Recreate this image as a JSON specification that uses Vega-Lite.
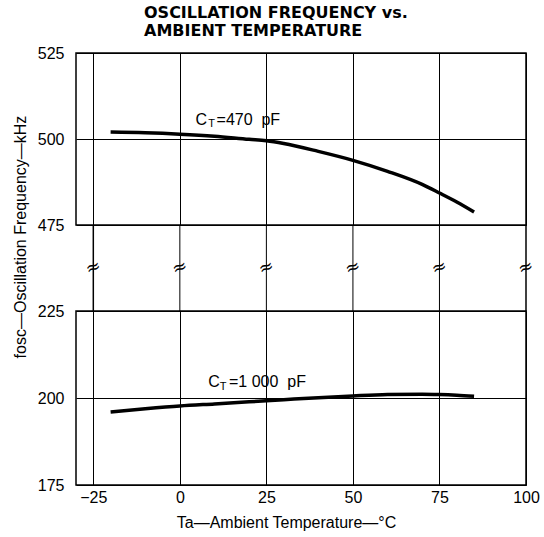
{
  "$schema": "https://vega.github.io/schema/vega-lite/v6.json",
  "padding": {"left": 11, "top": 5, "right": 0, "bottom": 0},
  "autosize": {"type": "pad"},
  "title": {
    "text": ["OSCILLATION FREQUENCY vs.", "AMBIENT TEMPERATURE"],
    "anchor": "start", "frame": "group", "dx": 68,
    "font": "DejaVu Sans", "fontWeight": "bold", "fontSize": 16, "lineHeight": 18,
    "offset": 5, "color": "black"
  },
  "datasets": {
    "c470": [
      {"temp": -20, "freq": 502.0}, {"temp": -10, "freq": 501.8}, {"temp": 0, "freq": 501.4},
      {"temp": 10, "freq": 500.8}, {"temp": 20, "freq": 499.9}, {"temp": 25, "freq": 499.5},
      {"temp": 30, "freq": 498.7}, {"temp": 40, "freq": 496.4}, {"temp": 50, "freq": 493.8},
      {"temp": 60, "freq": 490.6}, {"temp": 70, "freq": 486.8}, {"temp": 75, "freq": 484.3},
      {"temp": 80, "freq": 481.7}, {"temp": 85, "freq": 478.8}
    ],
    "c1000": [
      {"temp": -20, "freq": 196.0}, {"temp": -10, "freq": 196.9}, {"temp": 0, "freq": 197.7},
      {"temp": 10, "freq": 198.3}, {"temp": 20, "freq": 198.9}, {"temp": 30, "freq": 199.5},
      {"temp": 40, "freq": 200.1}, {"temp": 50, "freq": 200.6}, {"temp": 60, "freq": 201.0},
      {"temp": 70, "freq": 201.1}, {"temp": 75, "freq": 201.0}, {"temp": 80, "freq": 200.8},
      {"temp": 85, "freq": 200.5}
    ],
    "xgrid": [{"temp": -25}, {"temp": 0}, {"temp": 25}, {"temp": 50}, {"temp": 75}, {"temp": 100}],
    "labels": [
      {"curve": "470", "part": "main", "temp": 4.5, "freq": 504.1, "txt": "C"},
      {"curve": "470", "part": "sub", "temp": 8.2, "freq": 503.5, "txt": "T"},
      {"curve": "470", "part": "main", "temp": 10.6, "freq": 504.1, "txt": "=470\u00a0\u00a0pF"},
      {"curve": "1000", "part": "main", "temp": 8.2, "freq": 203.25, "txt": "C"},
      {"curve": "1000", "part": "sub", "temp": 11.5, "freq": 202.3, "txt": "T"},
      {"curve": "1000", "part": "main", "temp": 14.2, "freq": 203.25, "txt": "=1\u00a0000\u00a0\u00a0pF"}
    ]
  },
  "spacing": 0,
  "bounds": "flush",
  "vconcat": [
    {
      "width": 450, "height": 172,
      "layer": [
        {
          "data": {"name": "c470"},
          "mark": {"type": "line", "color": "black", "strokeWidth": 3.5, "interpolate": "monotone"},
          "encoding": {
            "x": {"field": "temp", "type": "quantitative", "scale": {"domain": [-25, 100]},
                  "axis": {"values": [-25, 0, 25, 50, 75, 100], "labels": false, "title": null, "grid": true}},
            "y": {"field": "freq", "type": "quantitative", "scale": {"domain": [475, 525]},
                  "axis": {"values": [475, 500, 525], "grid": true,
                           "title": "fosc\u2014Oscillation Frequency\u2014kHz",
                           "titleX": -50.5, "titleY": 183.5, "titleBaseline": "alphabetic"}}
          }
        },
        {
          "data": {"name": "labels"},
          "transform": [{"filter": "datum.curve == '470' && datum.part == 'main'"}],
          "mark": {"type": "text", "align": "left", "baseline": "alphabetic", "fontSize": 16, "color": "black"},
          "encoding": {
            "x": {"field": "temp", "type": "quantitative"},
            "y": {"field": "freq", "type": "quantitative"},
            "text": {"field": "txt"}
          }
        },
        {
          "data": {"name": "labels"},
          "transform": [{"filter": "datum.curve == '470' && datum.part == 'sub'"}],
          "mark": {"type": "text", "align": "left", "baseline": "alphabetic", "fontSize": 11, "color": "black"},
          "encoding": {
            "x": {"field": "temp", "type": "quantitative"},
            "y": {"field": "freq", "type": "quantitative"},
            "text": {"field": "txt"}
          }
        }
      ]
    },
    {
      "width": 450, "height": 86,
      "view": {"stroke": null},
      "layer": [
        {
          "data": {"name": "xgrid"},
          "transform": [{"filter": "datum.temp > -25 && datum.temp < 100"}],
          "mark": {"type": "rule", "color": "black", "strokeWidth": 1},
          "encoding": {
            "x": {"field": "temp", "type": "quantitative", "scale": {"domain": [-25, 100]}, "axis": null}
          }
        },
        {
          "data": {"name": "xgrid"},
          "transform": [{"filter": "datum.temp == -25 || datum.temp == 100"}],
          "mark": {"type": "rule", "color": "black", "strokeWidth": 1.5},
          "encoding": {
            "x": {"field": "temp", "type": "quantitative", "axis": null}
          }
        },
        {
          "data": {"name": "xgrid"},
          "mark": {"type": "text", "text": "\u2248", "fontSize": 18, "font": "DejaVu Sans", "baseline": "middle", "angle": -20, "color": "black"},
          "encoding": {
            "x": {"field": "temp", "type": "quantitative", "axis": null},
            "y": {"datum": 0.5, "type": "quantitative", "scale": {"domain": [0, 1]}, "axis": null}
          }
        }
      ]
    },
    {
      "width": 450, "height": 174,
      "layer": [
        {
          "data": {"name": "c1000"},
          "mark": {"type": "line", "color": "black", "strokeWidth": 3.5, "interpolate": "monotone"},
          "encoding": {
            "x": {"field": "temp", "type": "quantitative", "scale": {"domain": [-25, 100]},
                  "axis": {"values": [-25, 0, 25, 50, 75, 100], "grid": true, "labelFlush": false,
                           "labelPadding": 4,
                           "title": "Ta\u2014Ambient Temperature\u2014\u00b0C",
                           "titleX": 210, "titleY": 37, "titleBaseline": "middle"}},
            "y": {"field": "freq", "type": "quantitative", "scale": {"domain": [175, 225]},
                  "axis": {"values": [175, 200, 225], "grid": true, "title": null}}
          }
        },
        {
          "data": {"name": "labels"},
          "transform": [{"filter": "datum.curve == '1000' && datum.part == 'main'"}],
          "mark": {"type": "text", "align": "left", "baseline": "alphabetic", "fontSize": 16, "color": "black"},
          "encoding": {
            "x": {"field": "temp", "type": "quantitative"},
            "y": {"field": "freq", "type": "quantitative"},
            "text": {"field": "txt"}
          }
        },
        {
          "data": {"name": "labels"},
          "transform": [{"filter": "datum.curve == '1000' && datum.part == 'sub'"}],
          "mark": {"type": "text", "align": "left", "baseline": "alphabetic", "fontSize": 11, "color": "black"},
          "encoding": {
            "x": {"field": "temp", "type": "quantitative"},
            "y": {"field": "freq", "type": "quantitative"},
            "text": {"field": "txt"}
          }
        }
      ]
    }
  ],
  "config": {
    "font": "Liberation Sans",
    "view": {"stroke": "black", "strokeWidth": 1.5},
    "axis": {
      "gridColor": "black", "gridOpacity": 1, "gridWidth": 1,
      "labelColor": "black", "labelFontSize": 16, "labelPadding": 12,
      "titleColor": "black", "titleFontSize": 16, "titleFontWeight": "normal",
      "ticks": false, "tickSize": 0, "domain": false
    }
  }
}
